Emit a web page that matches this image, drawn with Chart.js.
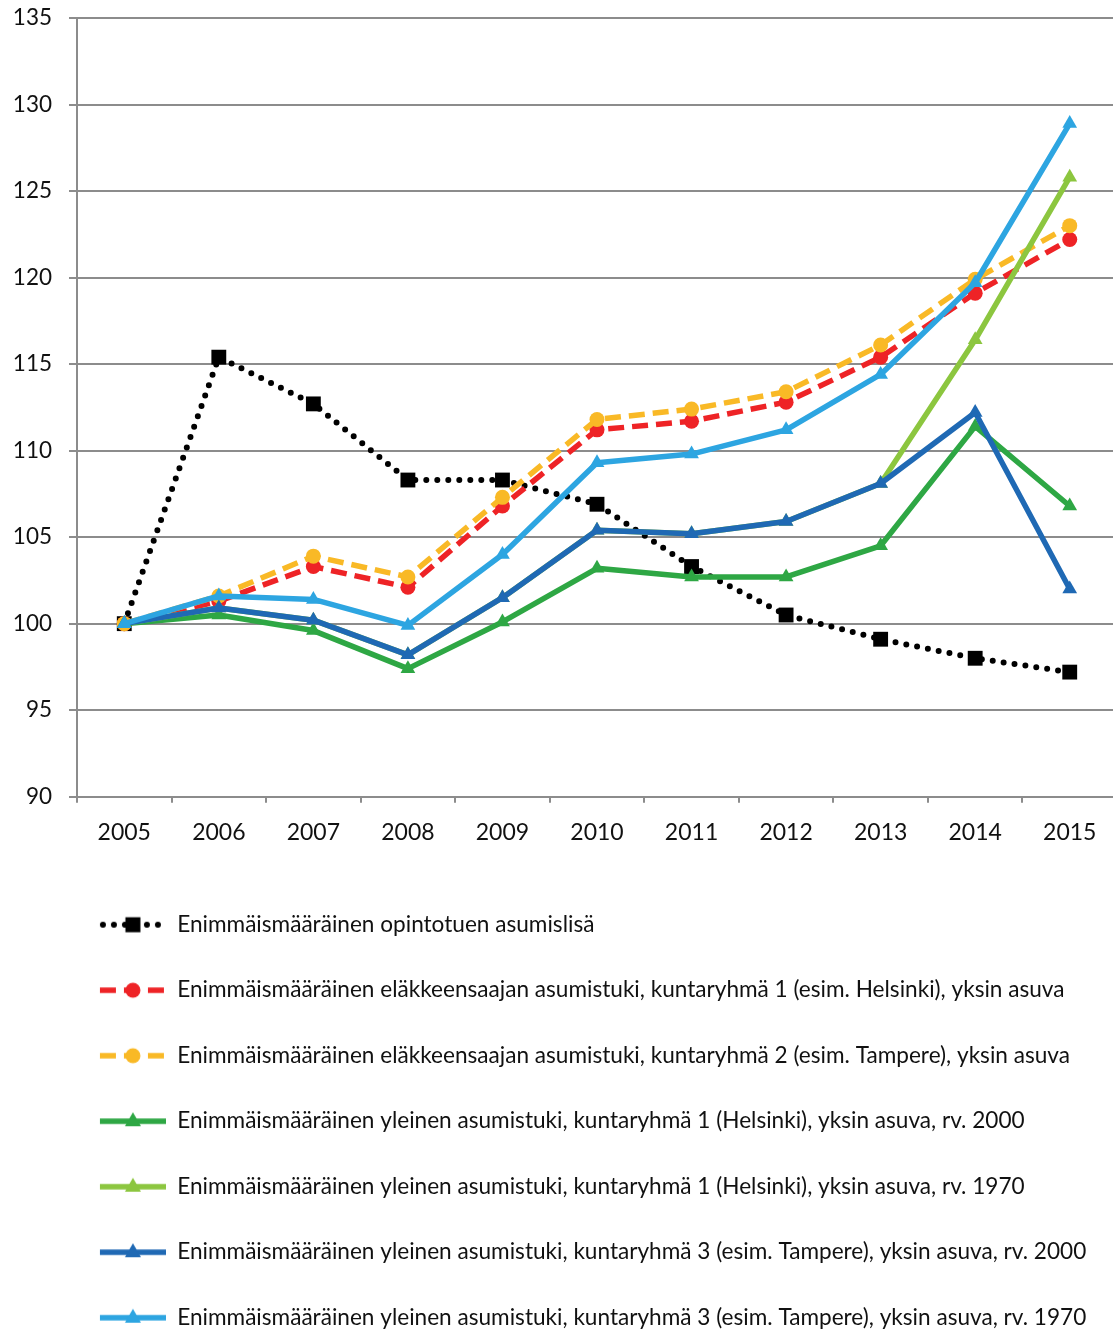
<!DOCTYPE html>
<html>
<head>
<meta charset="utf-8">
<script src="https://cdn.jsdelivr.net/npm/chart.js@4.4.1/dist/chart.umd.min.js"></script>
<style>
  html, body { margin: 0; padding: 0; background: #ffffff; overflow: hidden; }
  #wrap { width: 1117px; height: 1339px; position: relative; }
</style>
</head>
<body>
<div id="wrap"><canvas id="c"></canvas></div>
<script>
const years = ["2005","2006","2007","2008","2009","2010","2011","2012","2013","2014","2015"];
const yTicks = [90, 95, 100, 105, 110, 115, 120, 125, 130, 135];

const seriesNames = [
  "Enimmäismääräinen opintotuen asumislisä",
  "Enimmäismääräinen eläkkeensaajan asumistuki, kuntaryhmä 1 (esim. Helsinki), yksin asuva",
  "Enimmäismääräinen eläkkeensaajan asumistuki, kuntaryhmä 2 (esim. Tampere), yksin asuva",
  "Enimmäismääräinen yleinen asumistuki, kuntaryhmä 1 (Helsinki), yksin asuva, rv. 2000",
  "Enimmäismääräinen yleinen asumistuki, kuntaryhmä 1 (Helsinki), yksin asuva, rv. 1970",
  "Enimmäismääräinen yleinen asumistuki, kuntaryhmä 3 (esim. Tampere), yksin asuva, rv. 2000",
  "Enimmäismääräinen yleinen asumistuki, kuntaryhmä 3 (esim. Tampere), yksin asuva, rv. 1970"
];

const opintotuki     = [100, 115.4, 112.7, 108.3, 108.3, 106.9, 103.3, 100.5, 99.1, 98.0, 97.2];
const elakeHelsinki  = [100, 101.3, 103.3, 102.1, 106.8, 111.2, 111.7, 112.8, 115.4, 119.1, 122.2];
const elakeTampere   = [100, 101.6, 103.9, 102.7, 107.3, 111.8, 112.4, 113.4, 116.1, 119.9, 123.0];
const yleinenHki2000 = [100, 100.5, 99.6, 97.4, 100.1, 103.2, 102.7, 102.7, 104.5, 111.4, 106.8];
const yleinenHki1970 = [100, 100.9, 100.2, 98.2, 101.5, 105.4, 105.2, 105.9, 108.1, 116.4, 125.8];
const yleinenTre2000 = [100, 100.9, 100.2, 98.2, 101.5, 105.4, 105.2, 105.9, 108.1, 112.2, 102.0];
const yleinenTre1970 = [100, 101.6, 101.4, 99.9, 104.0, 109.3, 109.8, 111.2, 114.4, 119.7, 128.9];

const seriesValues = [opintotuki, elakeHelsinki, elakeTampere, yleinenHki2000, yleinenHki1970, yleinenTre2000, yleinenTre1970];

const styles = [
  { color: "#000000", dash: [0, 11], cap: "round", width: 6, point: "rect", radius: 10.5 },
  { color: "#EE2326", dash: [16, 8], cap: "butt", width: 5.5, point: "circle", radius: 7.5 },
  { color: "#F9B926", dash: [16, 8], cap: "butt", width: 5.5, point: "circle", radius: 7.5 },
  { color: "#2EA744", dash: [], cap: "butt", width: 5.5, point: "triangle", radius: 8.5 },
  { color: "#8CC63F", dash: [], cap: "butt", width: 5.5, point: "triangle", radius: 8.5 },
  { color: "#1F69B4", dash: [], cap: "butt", width: 5.5, point: "triangle", radius: 8.5 },
  { color: "#2DA5E1", dash: [], cap: "butt", width: 5.5, point: "triangle", radius: 8.5 }
];

const FONT = "Lato, 'Open Sans', sans-serif";
const LEG_W = 123;
const LEG_FONT = 22.6;
const LEG_PAD = 42.9;

function makeLegendImage(s) {
  const cv = document.createElement('canvas');
  cv.width = LEG_W; cv.height = 24;
  const g = cv.getContext('2d');
  const cy = 12, x0 = 57, x1 = LEG_W, cx = (x0 + x1) / 2;
  g.strokeStyle = s.color; g.fillStyle = s.color;
  g.lineWidth = s.width; g.lineCap = s.cap;
  g.setLineDash(s.dash);
  g.beginPath(); g.moveTo(x0 + (s.cap === 'round' ? 3 : 0), cy); g.lineTo(x1 - (s.cap === 'round' ? 3 : 0), cy); g.stroke();
  g.setLineDash([]);
  if (s.point === 'rect') {
    g.fillRect(cx - 7.5, cy - 7.5, 15, 15);
  } else if (s.point === 'circle') {
    g.beginPath(); g.arc(cx, cy, 7.5, 0, Math.PI * 2); g.fill();
  } else {
    g.beginPath(); g.moveTo(cx, cy - 9); g.lineTo(cx + 8, cy + 5); g.lineTo(cx - 8, cy + 5); g.closePath(); g.fill();
  }
  return cv;
}
const legendImages = styles.map(makeLegendImage);

const datasets = seriesNames.map((name, i) => ({
  label: name,
  data: seriesValues[i],
  borderColor: styles[i].color,
  backgroundColor: styles[i].color,
  borderWidth: styles[i].width,
  borderDash: styles[i].dash,
  borderCapStyle: styles[i].cap,
  borderJoinStyle: 'round',
  pointStyle: styles[i].point,
  pointRadius: styles[i].radius,
  pointBorderWidth: 0,
  pointBackgroundColor: styles[i].color,
  pointBorderColor: styles[i].color,
  tension: 0,
  fill: false,
  clip: false,
  order: seriesNames.length - i
}));

const gridColor = "#8C8C8C";

new Chart(document.getElementById('c'), {
  type: 'line',
  data: { labels: years, datasets },
  options: {
    responsive: true,
    maintainAspectRatio: false,
    animation: false,
    layout: { autoPadding: false, padding: { top: 18, left: 0, right: 0, bottom: 0 } },
    scales: {
      x: {
        offset: true,
        grid: { offset: true, drawOnChartArea: false, drawTicks: true, tickLength: 6, color: gridColor, lineWidth: 2 },
        border: { display: true, color: gridColor, width: 2 },
        ticks: { color: "#111111", font: { family: FONT, size: 23 }, padding: 16, maxRotation: 0 },
        afterFit: (s) => { s.height = 73.8; s.paddingLeft = 0; s.paddingRight = 0; }
      },
      y: {
        min: 90, max: 135,
        afterBuildTicks: (s) => { s.ticks = yTicks.map(v => ({ value: v })); },
        grid: { color: gridColor, lineWidth: 2, tickLength: 8, drawTicks: true },
        border: { display: true, color: gridColor, width: 2 },
        ticks: { color: "#111111", font: { family: FONT, size: 22.5 }, padding: 17 },
        afterFit: (s) => { s.width = 77; s.paddingTop = 0; s.paddingBottom = 0; }
      }
    },
    plugins: {
      tooltip: { enabled: false },
      legend: {
        position: 'bottom',
        align: 'start',
        labels: {
          usePointStyle: true,
          pointStyleWidth: LEG_W,
          padding: LEG_PAD,
          color: "#111111",
          font: { family: FONT, size: LEG_FONT },
          generateLabels: (chart) => {
            const items = Chart.defaults.plugins.legend.labels.generateLabels(chart);
            items.sort((a, b) => a.datasetIndex - b.datasetIndex);
            return items.map(it => Object.assign(it, { pointStyle: legendImages[it.datasetIndex], lineDash: [] }));
          }
        }
      }
    }
  }
});
</script>
</body>
</html>
